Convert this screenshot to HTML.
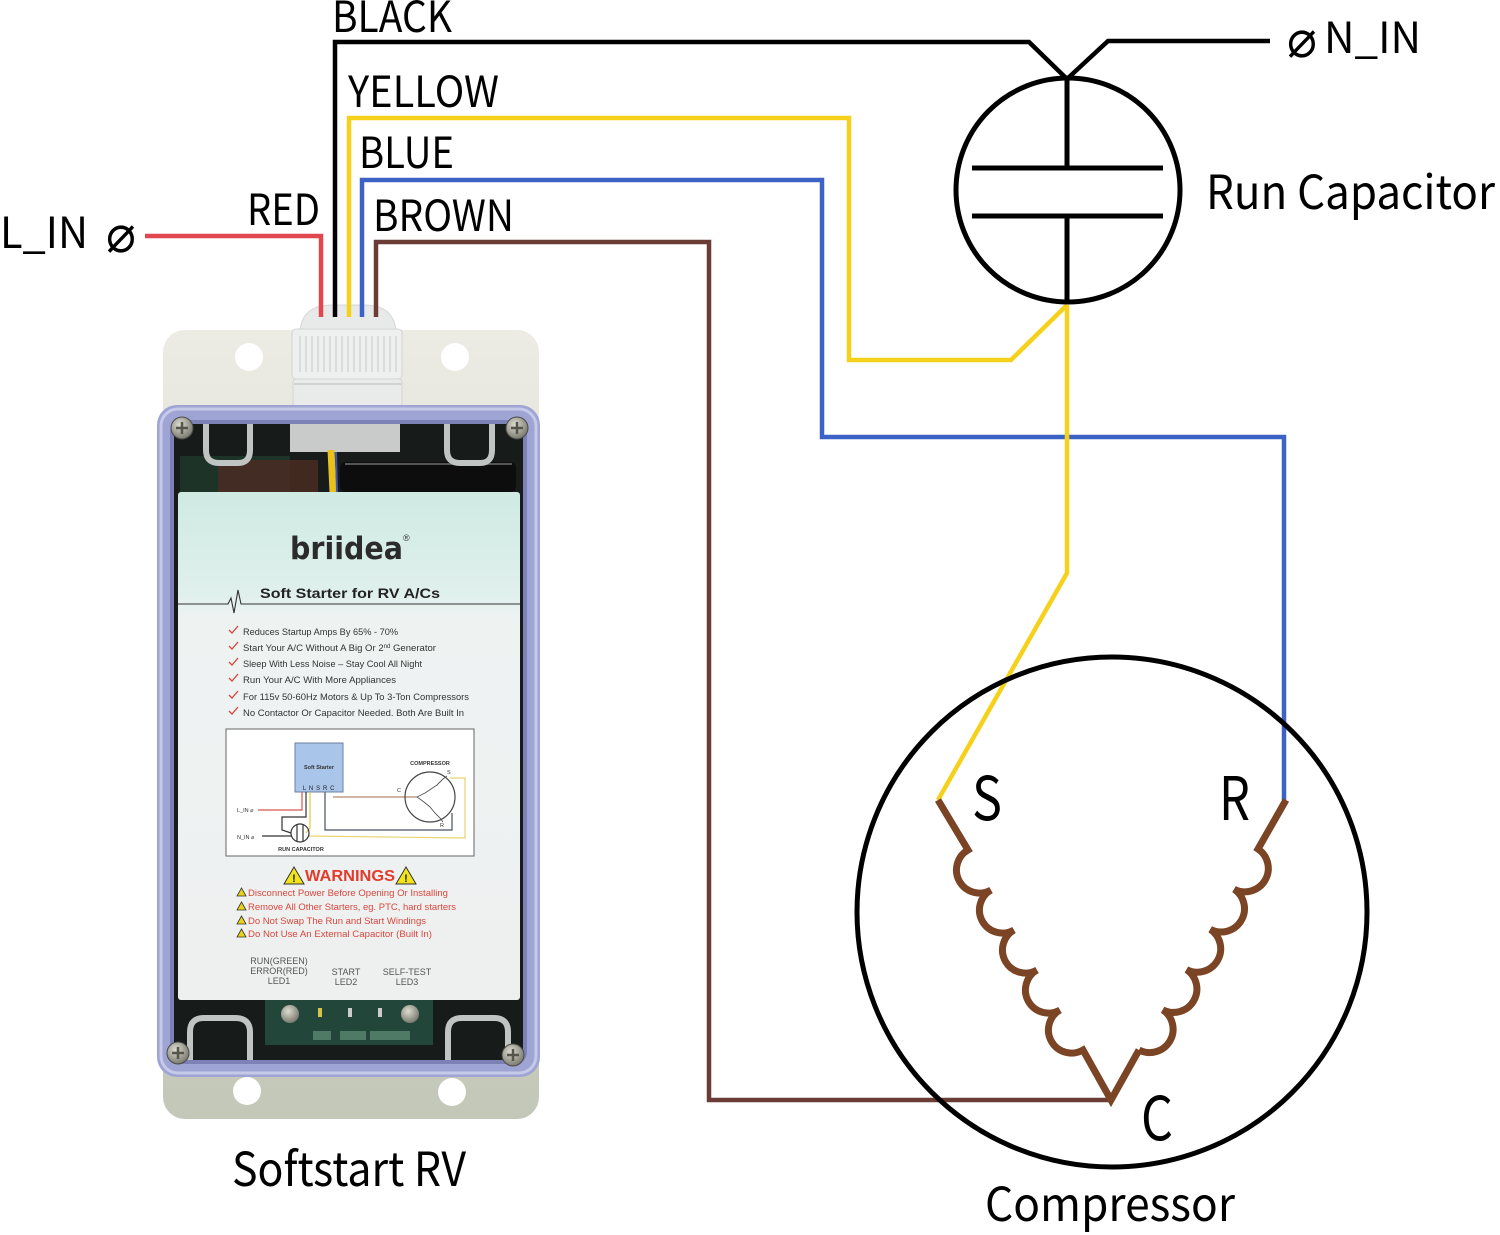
<!DOCTYPE html>
<html><head><meta charset="utf-8">
<style>
html,body{margin:0;padding:0;background:#fff;}
svg{display:block;}
text{font-family:"Noto Sans CJK JP","Liberation Sans",sans-serif;}
.s{font-family:"Liberation Sans","Noto Sans CJK JP",sans-serif;}
.d{font-family:"DejaVu Sans","Liberation Sans",sans-serif;}
</style></head><body>
<svg width="1500" height="1235" viewBox="0 0 1500 1235" xmlns="http://www.w3.org/2000/svg">
<defs>
 <linearGradient id="plate" x1="0" y1="0" x2="0" y2="1">
  <stop offset="0" stop-color="#ecebe4"/>
  <stop offset="0.5" stop-color="#dadcd1"/>
  <stop offset="1" stop-color="#c3c7b7"/>
 </linearGradient>
 <linearGradient id="sticker" x1="0" y1="0" x2="0" y2="1">
  <stop offset="0" stop-color="#cfeae2"/>
  <stop offset="0.2" stop-color="#e0f0ec"/>
  <stop offset="0.25" stop-color="#eef3f2"/>
  <stop offset="1" stop-color="#eef0f0"/>
 </linearGradient>
 <radialGradient id="screw" cx="0.4" cy="0.35" r="0.75">
  <stop offset="0" stop-color="#dcdccf"/>
  <stop offset="1" stop-color="#6c6c63"/>
 </radialGradient>
</defs>

<!-- ============ DEVICE ============ -->
<rect x="163" y="330" width="376" height="789" rx="22" fill="url(#plate)"/>
<circle cx="249" cy="357" r="14" fill="#fff"/>
<circle cx="455" cy="357" r="14" fill="#fff"/>
<circle cx="247" cy="1091" r="14" fill="#fff"/>
<circle cx="452" cy="1092" r="14" fill="#fff"/>

<!-- cable gland -->
<path d="M300,331 Q302,306 330,305 H366 Q394,306 396,331 Z" fill="#e7eae9" stroke="#d5d8d7"/>
<rect x="292" y="329" width="110" height="50" rx="4" fill="#eef0ef" stroke="#d2d5d4"/>
<g stroke="#d2d5d4" stroke-width="1.5">
 <line x1="300" y1="336" x2="300" y2="372"/><line x1="306" y1="336" x2="306" y2="372"/>
 <line x1="312" y1="336" x2="312" y2="372"/><line x1="318" y1="336" x2="318" y2="372"/>
 <line x1="324" y1="336" x2="324" y2="372"/><line x1="330" y1="336" x2="330" y2="372"/>
 <line x1="336" y1="336" x2="336" y2="372"/><line x1="342" y1="336" x2="342" y2="372"/>
 <line x1="348" y1="336" x2="348" y2="372"/><line x1="354" y1="336" x2="354" y2="372"/>
 <line x1="360" y1="336" x2="360" y2="372"/><line x1="366" y1="336" x2="366" y2="372"/>
 <line x1="372" y1="336" x2="372" y2="372"/><line x1="378" y1="336" x2="378" y2="372"/>
 <line x1="384" y1="336" x2="384" y2="372"/><line x1="390" y1="336" x2="390" y2="372"/>
 <line x1="396" y1="336" x2="396" y2="372"/>
</g>
<rect x="293" y="379" width="109" height="27" rx="3" fill="#e9ebea" stroke="#d2d5d4"/>
<line x1="294" y1="384" x2="401" y2="384" stroke="#cfd2d1" stroke-width="2"/>

<!-- lid -->
<rect x="157" y="405" width="383" height="672" rx="20" fill="#9ea4d4"/>
<rect x="161" y="409" width="375" height="664" rx="17" fill="none" stroke="#c6cae9" stroke-width="3"/>
<rect x="170" y="420" width="357" height="644" rx="12" fill="#7c82b6"/>
<rect x="174" y="424" width="349" height="636" rx="10" fill="#171b1a"/>

<!-- interior top -->
<rect x="290" y="424" width="110" height="28" fill="#c8cbca"/>
<rect x="180" y="456" width="110" height="36" fill="#1e3328"/>
<rect x="218" y="460" width="100" height="32" fill="#4a2b22" opacity="0.85"/>
<rect x="340" y="462" width="176" height="30" rx="6" fill="#0d0d0d"/>
<line x1="345" y1="464" x2="512" y2="464" stroke="#555" stroke-width="2"/>
<line x1="331" y1="450" x2="333" y2="492" stroke="#e8c21a" stroke-width="7"/>
<line x1="336" y1="452" x2="337" y2="492" stroke="#4256b0" stroke-width="2"/>
<path d="M206,424 V450 Q206,463 219,463 H238 Q250,463 250,450 V424" fill="none" stroke="#c0c4c2" stroke-width="6"/>
<path d="M447,424 V450 Q447,463 460,463 H480 Q492,463 492,450 V424" fill="none" stroke="#c0c4c2" stroke-width="6"/>

<!-- interior bottom -->
<rect x="265" y="1000" width="168" height="45" fill="#22463a"/>
<circle cx="290" cy="1014" r="9" fill="url(#screw)"/>
<circle cx="410" cy="1014" r="9" fill="url(#screw)"/>
<rect x="318" y="1008" width="4" height="9" fill="#d9c24a"/>
<rect x="348" y="1008" width="4" height="9" fill="#ccc"/>
<rect x="378" y="1008" width="4" height="9" fill="#ccc"/>
<rect x="313" y="1031" width="18" height="9" fill="#4f7a66"/>
<rect x="340" y="1031" width="26" height="9" fill="#4f7a66"/>
<rect x="370" y="1031" width="40" height="9" fill="#4f7a66"/>
<path d="M190,1060 V1032 Q190,1018 204,1018 H235 Q250,1018 250,1032 V1060" fill="none" stroke="#c0c4c2" stroke-width="6"/>
<path d="M448,1060 V1032 Q448,1018 462,1018 H494 Q508,1018 508,1032 V1060" fill="none" stroke="#c0c4c2" stroke-width="6"/>

<!-- corner screws -->
<g stroke="#4b4b45" stroke-width="1">
 <circle cx="182" cy="428" r="11" fill="url(#screw)"/>
 <circle cx="517" cy="428" r="11" fill="url(#screw)"/>
 <circle cx="178" cy="1053" r="11" fill="url(#screw)"/>
 <circle cx="513" cy="1055" r="11" fill="url(#screw)"/>
</g>
<g stroke="#55554d" stroke-width="2.5">
 <line x1="176" y1="428" x2="188" y2="428"/><line x1="182" y1="422" x2="182" y2="434"/>
 <line x1="511" y1="428" x2="523" y2="428"/><line x1="517" y1="422" x2="517" y2="434"/>
 <line x1="172" y1="1053" x2="184" y2="1053"/><line x1="178" y1="1047" x2="178" y2="1059"/>
 <line x1="507" y1="1055" x2="519" y2="1055"/><line x1="513" y1="1049" x2="513" y2="1061"/>
</g>

<!-- sticker -->
<rect x="178" y="492" width="342" height="508" rx="3" fill="url(#sticker)"/>
<text class="d" x="290" y="559" font-size="31" font-weight="bold" fill="#2b2b2b" textLength="113" lengthAdjust="spacingAndGlyphs">briidea</text>
<text class="s" x="403" y="541" font-size="9" fill="#333">®</text>
<path d="M178,604 H228 L231,598 L234,613 L238,590 L241,604 H520" fill="none" stroke="#333" stroke-width="1.1"/>
<text class="s" x="260" y="598" font-size="14" font-weight="bold" fill="#222" textLength="180" lengthAdjust="spacingAndGlyphs">Soft Starter for RV A/Cs</text>

<g fill="none" stroke="#d2473b" stroke-width="1.3">
 <polyline points="229,630 232,633 238,626"/>
 <polyline points="229,646 232,649 238,642"/>
 <polyline points="229,662 232,665 238,658"/>
 <polyline points="229,678 232,681 238,674"/>
 <polyline points="229,695 232,698 238,691"/>
 <polyline points="229,711 232,714 238,707"/>
</g>
<g class="s" font-size="9.5" fill="#333">
 <text class="s" x="243" y="635" textLength="155" lengthAdjust="spacingAndGlyphs">Reduces Startup Amps By 65% - 70%</text>
 <text class="s" x="243" y="651" textLength="193" lengthAdjust="spacingAndGlyphs">Start Your A/C Without A Big Or 2<tspan font-size="6" dy="-3">nd</tspan><tspan dy="3"> Generator</tspan></text>
 <text class="s" x="243" y="667" textLength="179" lengthAdjust="spacingAndGlyphs">Sleep With Less Noise – Stay Cool All Night</text>
 <text class="s" x="243" y="683" textLength="153" lengthAdjust="spacingAndGlyphs">Run Your A/C With More Appliances</text>
 <text class="s" x="243" y="700" textLength="226" lengthAdjust="spacingAndGlyphs">For 115v 50-60Hz Motors &amp; Up To 3-Ton Compressors</text>
 <text class="s" x="243" y="716" textLength="221" lengthAdjust="spacingAndGlyphs">No Contactor Or Capacitor Needed. Both Are Built In</text>
</g>

<!-- mini schematic -->
<rect x="226" y="729" width="248" height="127" fill="#fff" stroke="#666" stroke-width="1"/>
<rect x="295" y="743" width="48" height="49" fill="#aac5ea" stroke="#6d7fa0"/>
<text class="s" x="319" y="769" font-size="5.5" font-weight="bold" fill="#333" text-anchor="middle">Soft Starter</text>
<text class="s" x="319" y="790" font-size="6" fill="#222" text-anchor="middle" letter-spacing="0.6">L N S R C</text>
<g fill="none" stroke-width="1.2">
 <polyline points="302,792 302,810 258,810" stroke="#d9534f"/>
 <polyline points="306,792 306,817 282,817 282,830 291,833" stroke="#333"/>
 <line x1="262" y1="836" x2="291" y2="836" stroke="#333"/>
 <polyline points="310,792 310,828 306,833" stroke="#e3c84a"/>
 <polyline points="325,792 325,830 452,830 452,813" stroke="#4a5060"/>
 <line x1="333" y1="797" x2="417" y2="797" stroke="#b08a6a"/>
 <polyline points="309,836 465,838 465,778 450,778" stroke="#e6d470"/>
 <circle cx="300" cy="833" r="9" stroke="#333"/>
 <line x1="297" y1="825" x2="297" y2="841" stroke="#333"/>
 <line x1="303" y1="825" x2="303" y2="841" stroke="#333"/>
 <circle cx="430" cy="797" r="25" stroke="#444"/>
 <polyline points="417,797 425,793 431,789 437,785 443,779 447,776" stroke="#555" stroke-width="0.9"/>
 <polyline points="417,797 424,802 430,807 435,813 440,818 443,822" stroke="#555" stroke-width="0.9"/>
</g>
<g class="s" font-size="5.5" fill="#333">
 <text class="s" x="430" y="765" text-anchor="middle" font-weight="bold">COMPRESSOR</text>
 <text class="s" x="447" y="774">S</text>
 <text class="s" x="397" y="792">C</text>
 <text class="s" x="440" y="827">R</text>
 <text class="s" x="237" y="812">L_IN ⌀</text>
 <text class="s" x="237" y="839">N_IN ⌀</text>
 <text class="s" x="301" y="851" text-anchor="middle" font-weight="bold">RUN CAPACITOR</text>
</g>

<!-- warnings -->
<polygon points="294,867 284,884 304,884" fill="#f3e419" stroke="#333" stroke-width="1"/>
<text class="s" x="294" y="882" font-size="11" font-weight="bold" text-anchor="middle" fill="#222">!</text>
<polygon points="406,867 396,884 416,884" fill="#f3e419" stroke="#333" stroke-width="1"/>
<text class="s" x="406" y="882" font-size="11" font-weight="bold" text-anchor="middle" fill="#222">!</text>
<text class="s" x="305" y="881" font-size="16" font-weight="bold" fill="#e23b2c" textLength="90" lengthAdjust="spacingAndGlyphs">WARNINGS</text>
<g fill="#e8d21a" stroke="#333" stroke-width="0.8">
 <polygon points="241.5,888 237,896 246,896"/>
 <polygon points="241.5,902 237,910 246,910"/>
 <polygon points="241.5,916 237,924 246,924"/>
 <polygon points="241.5,929 237,937 246,937"/>
</g>
<g font-size="9.5" fill="#d9473d">
 <text class="s" x="248" y="896" textLength="200" lengthAdjust="spacingAndGlyphs">Disconnect Power Before Opening Or Installing</text>
 <text class="s" x="248" y="910" textLength="208" lengthAdjust="spacingAndGlyphs">Remove All Other Starters, eg. PTC, hard starters</text>
 <text class="s" x="248" y="924" textLength="178" lengthAdjust="spacingAndGlyphs">Do Not Swap The Run and Start Windings</text>
 <text class="s" x="248" y="937" textLength="184" lengthAdjust="spacingAndGlyphs">Do Not Use An External Capacitor (Built In)</text>
</g>
<g font-size="9" fill="#555" text-anchor="middle">
 <text class="s" x="279" y="964">RUN(GREEN)</text>
 <text class="s" x="279" y="974">ERROR(RED)</text>
 <text class="s" x="279" y="984">LED1</text>
 <text class="s" x="346" y="975">START</text>
 <text class="s" x="346" y="985">LED2</text>
 <text class="s" x="407" y="975">SELF-TEST</text>
 <text class="s" x="407" y="985">LED3</text>
</g>

<!-- ============ WIRES ============ -->
<g fill="none" stroke-linejoin="miter">
 <polyline points="145,236 321,236 321,317" stroke="#e0474e" stroke-width="4.5"/>
 <polyline points="335,317 335,42 1029,42 1067,79" stroke="#000" stroke-width="4.5"/>
 <polyline points="1270,41 1108,41 1067,79" stroke="#000" stroke-width="4.5"/>
 <polyline points="376,317 376,242 709,242 709,1100 1112,1100" stroke="#6b3b35" stroke-width="4.5"/>
 <polyline points="362,317 362,180 822,180 822,437 1284,437 1284,800" stroke="#3b62c4" stroke-width="4.5"/>
 <polyline points="349,317 349,118 849,118 849,360 1011,360 1067,305" stroke="#f6d11c" stroke-width="4.5"/>
 <polyline points="1067,305 1067,573 938,800" stroke="#f6d11c" stroke-width="4.5"/>
</g>

<!-- run capacitor -->
<circle cx="1068" cy="190" r="112" fill="none" stroke="#000" stroke-width="5"/>
<line x1="1067" y1="79" x2="1067" y2="168" stroke="#000" stroke-width="5"/>
<line x1="1067" y1="216" x2="1067" y2="302" stroke="#000" stroke-width="5"/>
<line x1="972" y1="168" x2="1163" y2="168" stroke="#000" stroke-width="5"/>
<line x1="972" y1="216" x2="1163" y2="216" stroke="#000" stroke-width="5"/>

<!-- compressor -->
<circle cx="1112" cy="912" r="255" fill="none" stroke="#000" stroke-width="5"/>
<path d="M938,800 L968,850 a23,23 0 0 0 23,40 a23,23 0 0 0 23,40 a23,23 0 0 0 23,40 a23,23 0 0 0 23,40 a23,23 0 0 0 23,40 L1111,1100 L1139,1050" fill="none" stroke="#7a4425" stroke-width="7" stroke-linejoin="miter"/>
<path d="M1286,800 L1258,849 a23.4,23.4 0 0 1 -23.8,40.2 a23.4,23.4 0 0 1 -23.8,40.2 a23.4,23.4 0 0 1 -23.8,40.2 a23.4,23.4 0 0 1 -23.8,40.2 a23.4,23.4 0 0 1 -23.8,40.2" fill="none" stroke="#7a4425" stroke-width="7"/>

<!-- ============ LABELS ============ -->
<g fill="#000">
 <text x="0" y="248" font-size="43" textLength="88" lengthAdjust="spacingAndGlyphs">L_IN</text>
 <text class="d" x="106" y="252" font-size="52" textLength="30" lengthAdjust="spacingAndGlyphs">⌀</text>
 <text x="247" y="225" font-size="43" textLength="73" lengthAdjust="spacingAndGlyphs">RED</text>
 <text x="332" y="32" font-size="43" textLength="120" lengthAdjust="spacingAndGlyphs">BLACK</text>
 <text x="348" y="107" font-size="43" textLength="151" lengthAdjust="spacingAndGlyphs">YELLOW</text>
 <text x="359" y="168" font-size="43" textLength="95" lengthAdjust="spacingAndGlyphs">BLUE</text>
 <text x="373" y="231" font-size="43" textLength="141" lengthAdjust="spacingAndGlyphs">BROWN</text>
 <text class="d" x="1287" y="57" font-size="52" textLength="30" lengthAdjust="spacingAndGlyphs">⌀</text>
 <text x="1324" y="53" font-size="43" textLength="97" lengthAdjust="spacingAndGlyphs">N_IN</text>
 <text x="1206" y="209" font-size="47" textLength="289" lengthAdjust="spacingAndGlyphs">Run Capacitor</text>
 <text x="972" y="820" font-size="60" textLength="30" lengthAdjust="spacingAndGlyphs">S</text>
 <text x="1219" y="820" font-size="60" textLength="31" lengthAdjust="spacingAndGlyphs">R</text>
 <text x="1141" y="1140" font-size="60" textLength="32" lengthAdjust="spacingAndGlyphs">C</text>
 <text x="985" y="1221" font-size="47" textLength="250" lengthAdjust="spacingAndGlyphs">Compressor</text>
 <text x="232" y="1186" font-size="47" textLength="234" lengthAdjust="spacingAndGlyphs">Softstart RV</text>
</g>
</svg>
</body></html>
